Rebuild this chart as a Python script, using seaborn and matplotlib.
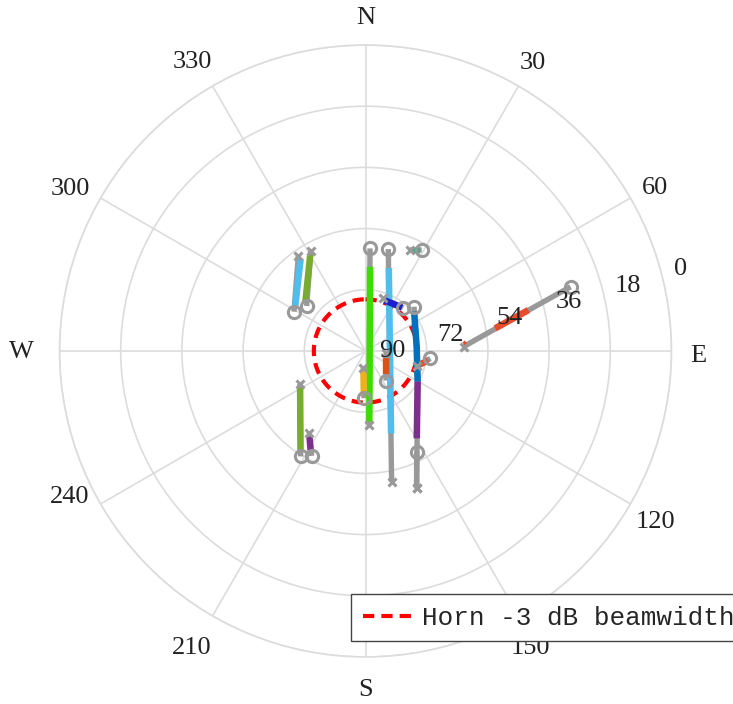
import numpy as np
import matplotlib
matplotlib.use("Agg")
import matplotlib.pyplot as plt
from matplotlib.lines import Line2D
import seaborn as sns

# ---- pass tracks: first point = start ('o'), last point = end ('x') ----
track_az = [
    [2.5, 177.1],
    [12.6, 168.7],
    [29.1, 23.8],
    [41.1, 18.7],
    [47.6, 85.2, 120.5, 159.6],
    [153.2, 159.6],
    [96.6, 106.2],
    [145.2, 96.4],
    [181.8, 187.2],
    [298.8, 324.7],
    [307.4, 331.3],
    [211.6, 243.3],
    [207.2, 214.3],
    [72.6, 87.4],
]
track_el = [
    [59.8, 68.2],
    [59.3, 50.8],
    [56.0, 57.5],
    [73.2, 73.6],
    [70.7, 74.9, 72.2, 46.9],
    [56.6, 46.9],
    [70.8, 74.2],
    [79.4, 83.9],
    [76.1, 84.9],
    [66.0, 55.8],
    [68.2, 56.5],
    [53.6, 68.4],
    [55.3, 60.7],
    [26.8, 61.1],
]

# ---- highlighted portions of the passes ----
seg_az = [
    [3.1, 176.9],
    [15.7, 162.8],
    [25.0, 28.3],
    [21.1, 40.0],
    [51.0, 85.2, 120.5],
    [120.5, 149.6],
    [103.9, 98.6],
    [108.9, 138.3],
    [185.7, 182.3],
    [324.8, 301.4],
    [330.2, 309.5],
    [240.5, 213.0],
    [213.2, 208.9],
    [80.1, 75.9],
    [86.5, 85.5],
]
seg_el = [
    [65.2, 69.2],
    [64.7, 64.6],
    [57.4, 56.4],
    [74.1, 73.3],
    [71.6, 74.9, 72.2],
    [72.2, 60.2],
    [73.5, 71.4],
    [83.6, 80.9],
    [84.1, 77.3],
    [56.9, 65.7],
    [57.3, 67.1],
    [67.9, 54.9],
    [59.9, 56.6],
    [51.3, 40.6],
    [60.8, 60.1],
]
seg_color = [
    "#3ddc00", "#4dbeee", "#3aa98a", "#1c1fd0", "#0072bd", "#7e2f8e",
    "#e84c2c", "#d95319", "#edb120", "#4dbeee", "#77ac30", "#77ac30",
    "#7e2f8e", "#e84c2c", "#e84c2c",
]

# horn half-power beam edge (elevation, deg)
beam_edge_el = 74.8

theta_ticks = [0, 30, 60, 90, 120, 150, 180, 210, 240, 270, 300, 330]
theta_labels = ["N", "30", "60", "E", "120", "150", "S", "210", "240", "W", "300", "330"]
r_ticks = [90, 72, 54, 36, 18, 0]

# offsets (pixels, x right / y down) of each azimuth label from the rim
theta_label_shift = [
    (0.5, -27), (14.5, -23), (24.5, -10), (26.5, 5), (24.5, 18),
    (11.5, 32), (0.5, 33), (-20.5, 32), (-30.5, -7), (-38.5, 1),
    (-30.5, -9), (-20.5, -24),
]

sns.set_theme(style="white")
plt.rcParams["font.family"] = ["Liberation Serif", "DejaVu Serif"]

GRAY = "#999999"
GRID = "#dcdcdc"
DASH = (0, (2.7, 1.7))
PX = 72 / 100  # points per pixel at 100 dpi

fig = plt.figure(figsize=(7.33, 7.04), dpi=100)
ax = fig.add_axes([0.0812, 0.0668, 0.8349, 0.8693], projection="polar")
ax.set_theta_zero_location("N")
ax.set_theta_direction(-1)
ax.set_rlim(90, 0)

# beamwidth circle
circ_t = np.linspace(0, 2 * np.pi, 361)
ax.plot(circ_t, np.full_like(circ_t, beam_edge_el), color="red",
        lw=3, ls=DASH, zorder=2)

# gray full passes
for az, el in zip(track_az, track_el):
    sns.lineplot(x=np.deg2rad(az), y=el, ax=ax, color=GRAY, lw=3.9,
                 sort=False, estimator=None, zorder=3,
                 solid_capstyle="butt")

# coloured portions
for az, el, c in zip(seg_az, seg_el, seg_color):
    sns.lineplot(x=np.deg2rad(az), y=el, ax=ax, color=c, lw=4.7,
                 sort=False, estimator=None, zorder=4,
                 solid_capstyle="butt")

# start / end markers
for az, el in zip(track_az, track_el):
    ax.plot(np.deg2rad(az[0]), el[0], marker="o", ms=8.8, mfc="none",
            mec=GRAY, mew=2.2, zorder=5)
    ax.plot(np.deg2rad(az[-1]), el[-1], marker="x", ms=6, mec=GRAY,
            mew=2.2, zorder=5)

ax.set_xlabel("")
ax.set_ylabel("")
ax.set_xticks(np.deg2rad(theta_ticks))
ax.set_xticklabels([])
ax.set_yticks(r_ticks)
ax.set_yticklabels([])
ax.grid(True, color=GRID, lw=1.2)
ax.spines["polar"].set_color(GRID)
ax.spines["polar"].set_linewidth(1.2)

# azimuth labels around the rim
for t, lab, (sx, sy) in zip(theta_ticks, theta_labels, theta_label_shift):
    ax.annotate(lab, xy=(np.deg2rad(t), 0), xytext=(sx * PX, -sy * PX),
                textcoords="offset points", ha="center", va="center",
                fontsize=19, color="#222222", annotation_clip=False,
                zorder=1)

# elevation labels
rlab_ang = np.deg2rad(74.5)
for r in r_ticks:
    ax.annotate(str(r), xy=(rlab_ang, r), xytext=(9.5, 0),
                textcoords="offset points", ha="left", va="center",
                fontsize=19, color="#222222", zorder=6)

handle = Line2D([], [], color="red", lw=3, ls=DASH)
leg = fig.legend([handle], ["Horn -3 dB beamwidth"], loc="upper left",
                 bbox_to_anchor=(351 / 733, 1 - 594 / 704), borderaxespad=0,
                 prop={"family": "Liberation Mono", "size": 18.7},
                 frameon=True, fancybox=False, edgecolor="#444444",
                 framealpha=1, handlelength=2.1, handletextpad=0.2,
                 borderpad=0.45)
leg.set_zorder(10)

fig.savefig("out.png", dpi=100)
